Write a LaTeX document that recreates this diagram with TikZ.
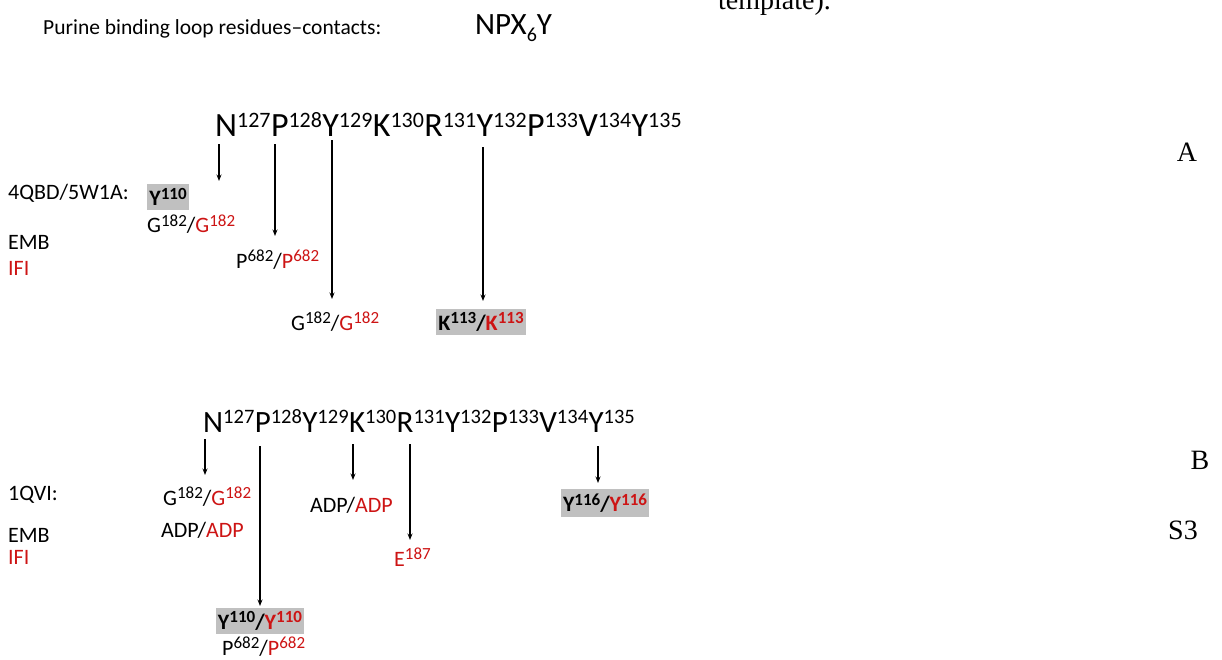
\documentclass[tikz,border=0pt]{standalone}
\usepackage{fontspec}
\setmainfont{Carlito}
\newfontfamily\timesfam{Liberation Serif}
\usepackage{tikz}
\usetikzlibrary{positioning,arrows.meta}

\definecolor{ifired}{RGB}{205,20,20}
\definecolor{hlgrey}{RGB}{192,192,192}

% superscripts of the two sequences and of the contact labels
\newcommand{\supA}[1]{\raisebox{9.5pt}{\fontsize{22}{22}\selectfont #1}}
\newcommand{\supB}[1]{\raisebox{8.5pt}{\fontsize{20.5}{20.5}\selectfont #1}}
\newcommand{\sups}[1]{\raisebox{6.5pt}{\fontsize{17}{17}\selectfont #1}}
\newcommand{\red}[1]{\textcolor{ifired}{#1}}

\tikzset{
  seqA/.style={inner sep=0pt, anchor=base west, font=\fontsize{34}{34}\selectfont},
  seqB/.style={inner sep=0pt, anchor=base west, font=\fontsize{31}{31}\selectfont},
  lbl/.style={inner sep=0pt, anchor=base west, font=\fontsize{22}{22}\selectfont},
  hl/.style={fill=hlgrey, inner xsep=2pt, inner ysep=4pt, font=\fontsize{22}{22}\selectfont\bfseries},
  panel/.style={inner sep=0pt, font=\fontsize{28}{28}\selectfont\timesfam},
  arr/.style={-{Stealth[length=6.5pt,width=5pt]}, line width=1.2pt, shorten <=7pt}
}

\begin{document}
\begin{tikzpicture}[x=1pt,y=-1pt]
\useasboundingbox (0,0) rectangle (1222,660);

% heading
\node[lbl, font=\fontsize{21.5}{21.5}\selectfont] (title) at (43,35) {Purine binding loop residues--contacts:};
\node[inner sep=0pt, anchor=base west, font=\fontsize{31}{31}\selectfont] (motif) at (475,35)
  {NPX\raisebox{-7pt}{\fontsize{20}{20}\selectfont 6}Y};
\node[panel, anchor=base west] (tmpl) at (718,10) {template).};

% panel A
\node[seqA] (a127) at (215,137) {N\supA{127}};
\node[seqA, base right=0pt of a127] (a128) {P\supA{128}};
\node[seqA, base right=0pt of a128] (a129) {Y\supA{129}};
\node[seqA, base right=0pt of a129] (a130) {K\supA{130}};
\node[seqA, base right=0pt of a130] (a131) {R\supA{131}};
\node[seqA, base right=0pt of a131] (a132) {Y\supA{132}};
\node[seqA, base right=0pt of a132] (a133) {P\supA{133}};
\node[seqA, base right=0pt of a133] (a134) {V\supA{134}};
\node[seqA, base right=0pt of a134] (a135) {Y\supA{135}};

\node[lbl] (pdbA) at (8,200) {4QBD/5W1A:};
\node[lbl] (embA) at (8,250) {EMB};
\node[lbl, text=ifired] (ifiA) at (8,275) {IFI};

\node[hl] (yA) at (168,197) {Y\sups{110}};
\node[lbl] (gA1) at (147,233) {G\sups{182}/\red{G\sups{182}}};
\node[lbl] (pA) at (236,268) {P\sups{682}/\red{P\sups{682}}};
\node[lbl] (gA2) at (291,330) {G\sups{182}/\red{G\sups{182}}};
\node[hl] (kA) at (481,322) {K\sups{113}/\red{K\sups{113}}};

\coordinate (eA1) at (219,181);
\coordinate (eA2) at (275,236);
\coordinate (eA3) at (332,299);
\coordinate (eA4) at (483,301);
\draw[arr] (a127.south -| eA1) -- (eA1);
\draw[arr] (a128.south -| eA2) -- (eA2);
\draw[arr, shorten <=3pt] (a129.south -| eA3) -- (eA3);
\draw[arr, shorten <=10pt] (a132.south -| eA4) -- (eA4);

\node[panel] (lA) at (1187,152) {A};

% panel B
\node[seqB] (b127) at (203,432) {N\supB{127}};
\node[seqB, base right=0pt of b127] (b128) {P\supB{128}};
\node[seqB, base right=0pt of b128] (b129) {Y\supB{129}};
\node[seqB, base right=0pt of b129] (b130) {K\supB{130}};
\node[seqB, base right=0pt of b130] (b131) {R\supB{131}};
\node[seqB, base right=0pt of b131] (b132) {Y\supB{132}};
\node[seqB, base right=0pt of b132] (b133) {P\supB{133}};
\node[seqB, base right=0pt of b133] (b134) {V\supB{134}};
\node[seqB, base right=0pt of b134] (b135) {Y\supB{135}};

\node[lbl] (pdbB) at (8,500) {1QVI:};
\node[lbl] (embB) at (8,542) {EMB};
\node[lbl, text=ifired] (ifiB) at (8,564) {IFI};

\node[lbl] (gB) at (163,505) {G\sups{182}/\red{G\sups{182}}};
\node[lbl] (adpB1) at (161,537) {ADP/\red{ADP}};
\node[lbl] (adpB2) at (310,512) {ADP/\red{ADP}};
\node[lbl, text=ifired] (eB) at (394,566) {E\sups{187}};
\node[hl] (yB1) at (260,621) {Y\sups{110}/\red{Y\sups{110}}};
\node[lbl] (pB) at (222,655) {P\sups{682}/\red{P\sups{682}}};
\node[hl] (yB2) at (605,503) {Y\sups{116}/\red{Y\sups{116}}};

\coordinate (eB1) at (205,475);
\coordinate (eB2) at (260,606);
\coordinate (eB3) at (353,480);
\coordinate (eB4) at (410,540);
\coordinate (eB5) at (598,483);
\draw[arr] (b127.south -| eB1) -- (eB1);
\draw[arr, shorten <=14pt] (b128.south -| eB2) -- (eB2);
\draw[arr, shorten <=12pt] (b130.south -| eB3) -- (eB3);
\draw[arr, shorten <=12pt] (b131.south -| eB4) -- (eB4);
\draw[arr, shorten <=14pt] (b135.south -| eB5) -- (eB5);

\node[panel] (lB) at (1200,460) {B};
\node[panel] (lS3) at (1183,530) {S3};
\end{tikzpicture}
\end{document}
